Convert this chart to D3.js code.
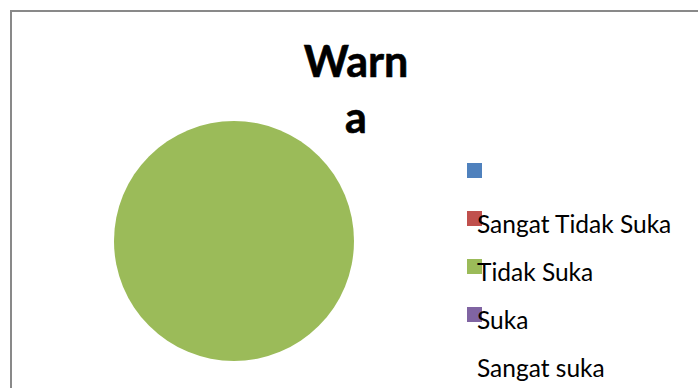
<!DOCTYPE html>
<html>
<head>
<meta charset="utf-8">
<script src="https://cdn.jsdelivr.net/npm/d3@7"></script>
<style>
  body { margin: 0; background: #fff; }
  svg { display: block; }
</style>
</head>
<body>
<div id="chart"></div>
<script>
// chart data
var categories = ["", "Sangat Tidak Suka", "Tidak Suka", "Suka", "Sangat suka"];
var values = [0, 0, 100, 0, 0];
var colors = ["#4F81BD", "#C0504D", "#9BBB59", "#8064A2", null];
var titleLines = ["Warn", "a"];

var width = 698, height = 388;

var svg = d3.select("#chart")
  .append("svg")
  .attr("width", width)
  .attr("height", height);

svg.append("rect")
  .attr("x", 11)
  .attr("y", 11)
  .attr("width", width + 20)
  .attr("height", height + 20)
  .attr("fill", "#fff")
  .attr("stroke", "#898989")
  .attr("stroke-width", 2);

var color = d3.scaleOrdinal().domain(d3.range(categories.length)).range(colors);

// pie
var pie = d3.pie().sort(null).value(function(d) { return d; });
var arc = d3.arc().innerRadius(0).outerRadius(120);

var g = svg.append("g").attr("transform", "translate(234,241)");
g.selectAll("path")
  .data(pie(values))
  .enter().append("path")
  .attr("d", arc)
  .attr("fill", function(d, i) { return color(i); });

// title
var title = svg.append("text")
  .attr("text-anchor", "middle")
  .style("font-family", "Lato, 'Open Sans', sans-serif")
  .style("font-weight", "bold")
  .style("font-size", "43px")
  .attr("fill", "#000")
  .attr("stroke", "#000")
  .attr("stroke-width", 0.6);
title.selectAll("tspan")
  .data(titleLines)
  .enter().append("tspan")
  .attr("x", 356)
  .attr("y", function(d, i) { return 77 + i * 56; })
  .text(function(d) { return d; });

// legend
var ly = d3.scalePoint().domain(d3.range(categories.length)).range([163, 355]);

var legend = svg.selectAll(".legend")
  .data(categories)
  .enter().append("g")
  .attr("class", "legend")
  .attr("transform", function(d, i) { return "translate(467," + ly(i) + ")"; });

legend.filter(function(d, i) { return colors[i]; })
  .append("rect")
  .attr("width", 15)
  .attr("height", 15)
  .attr("fill", function(d, i) { return color(categories.indexOf(d)); });

legend.append("text")
  .attr("x", 10)
  .attr("y", 22)
  .style("font-family", "Lato, 'Open Sans', sans-serif")
  .style("font-size", "24.5px")
  .attr("fill", "#000")
  .text(function(d) { return d; });
</script>
</body>
</html>
